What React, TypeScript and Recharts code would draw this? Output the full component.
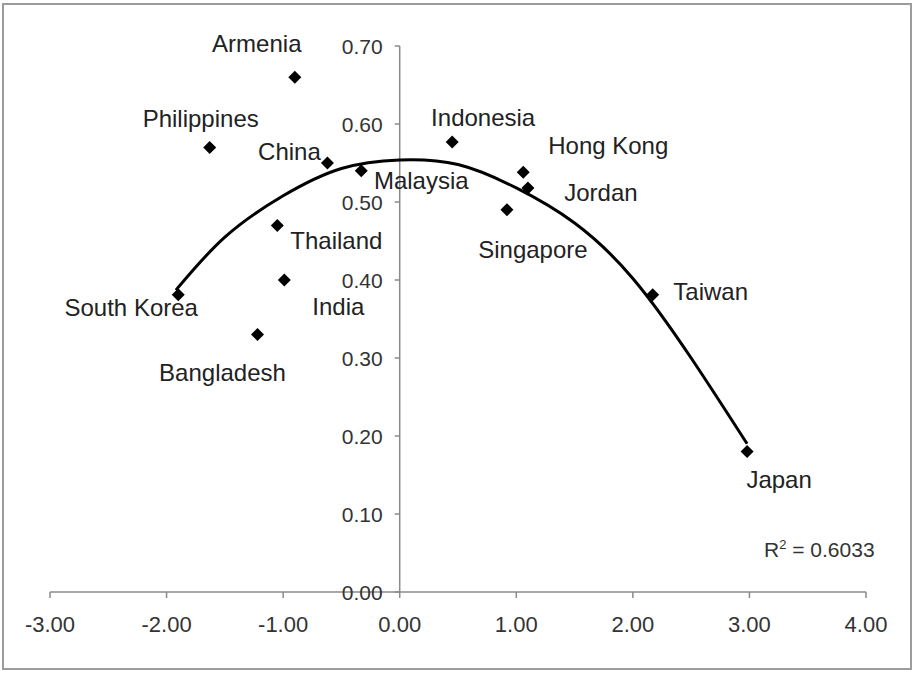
import { ComposedChart, Line, ReferenceLine, Scatter, XAxis, YAxis } from "recharts";

const countries = [
  "Armenia", "Philippines", "China", "Malaysia", "Indonesia", "Hong Kong", "Jordan",
  "Singapore", "Thailand", "India", "South Korea", "Bangladesh", "Taiwan", "Japan",
];
const xValues = [-0.9, -1.63, -0.62, -0.33, 0.45, 1.06, 1.1, 0.92, -1.05, -0.99, -1.9, -1.22, 2.17, 2.98];
const yValues = [0.66, 0.57, 0.55, 0.54, 0.577, 0.538, 0.518, 0.49, 0.47, 0.4, 0.381, 0.33, 0.381, 0.18];

// polynomial trend line
const trendX = [-1.92, -1.5, -1.0, -0.5, 0, 0.5, 1.0, 1.5, 2.0, 2.5, 2.98];
const trendY = [0.387, 0.455, 0.508, 0.543, 0.554, 0.548, 0.518, 0.473, 0.402, 0.3, 0.19];

const xTicks = [-3, -2, -1, 0, 1, 2, 3, 4];
const yTicks = [0, 0.1, 0.2, 0.3, 0.4, 0.5, 0.6, 0.7];
const rSquared = "0.6033";

// where each country label sits relative to its marker (px)
const labelOffsets: Record<string, [number, number]> = {
  Armenia: [-38, -34],
  Philippines: [-9, -29],
  China: [-38, -12],
  Malaysia: [60, 10],
  Indonesia: [31, -24],
  "Hong Kong": [85, -27],
  Jordan: [73, 5],
  Singapore: [26, 40],
  Thailand: [59, 15],
  India: [54, 26],
  "South Korea": [-47, 13],
  Bangladesh: [-35, 38],
  Taiwan: [58, -3],
  Japan: [32, 28],
};

const points = countries.map((name, i) => ({ name, x: xValues[i], y: yValues[i] }));
const trend = trendX.map((x, i) => ({ x, y: trendY[i] }));
const yTickPoints = yTicks.map((v) => ({ x: 0, y: v }));

const FONT = "'Liberation Sans', Arial, sans-serif";
const AXIS = "#8a8a8a";

function Diamond(props: any) {
  const { cx, cy, payload } = props;
  if (cx == null || cy == null) return <g />;
  const [dx, dy] = labelOffsets[payload.name] ?? [0, -20];
  const r = 6.5;
  return (
    <g>
      <path d={`M${cx},${cy - r}L${cx + r},${cy}L${cx},${cy + r}L${cx - r},${cy}Z`} fill="#000" />
      <text
        x={cx + dx}
        y={cy + dy}
        textAnchor="middle"
        dominantBaseline="central"
        fontSize={24}
        fontFamily={FONT}
        fill="#222"
      >
        {payload.name}
      </text>
    </g>
  );
}

function YTick(props: any) {
  const { cx, cy, payload } = props;
  if (cx == null || cy == null) return <g />;
  return (
    <g>
      <line x1={cx - 5} y1={cy} x2={cx} y2={cy} stroke={AXIS} strokeWidth={1.5} />
      <text
        x={cx - 17}
        y={cy}
        textAnchor="end"
        dominantBaseline="central"
        fontSize={21}
        fontFamily={FONT}
        fill="#333"
      >
        {payload.y.toFixed(2)}
      </text>
    </g>
  );
}

export default function App() {
  return (
    <div style={{ position: "absolute", left: 0, top: 0, width: 914, height: 673, background: "#fff" }}>
      <div
        style={{
          position: "absolute",
          left: 2,
          top: 3,
          width: 910,
          height: 667,
          boxSizing: "border-box",
          border: "2px solid #9c9c9c",
        }}
      />
      <ComposedChart
        width={914}
        height={673}
        margin={{ top: 46, right: 48, left: 50, bottom: 41 }}
        style={{ position: "absolute", left: 0, top: 0 }}
      >
        <XAxis
          type="number"
          dataKey="x"
          domain={[-3, 4]}
          ticks={xTicks}
          tickFormatter={(v: number) => v.toFixed(2)}
          height={40}
          stroke={AXIS}
          strokeWidth={1.5}
          tickSize={6}
          tickMargin={18}
          tick={{ fontSize: 22, fontFamily: FONT, fill: "#333" }}
        />
        <YAxis type="number" dataKey="y" domain={[0, 0.7]} hide />
        <ReferenceLine x={0} stroke={AXIS} strokeWidth={1.5} />
        <Scatter data={yTickPoints} shape={<YTick />} isAnimationActive={false} />
        <Line
          data={trend}
          dataKey="y"
          type="natural"
          stroke="#000"
          strokeWidth={3}
          dot={false}
          activeDot={false}
          isAnimationActive={false}
        />
        <Scatter data={points} shape={<Diamond />} isAnimationActive={false} />
      </ComposedChart>
      <div
        style={{
          position: "absolute",
          left: 764,
          top: 537,
          fontFamily: FONT,
          fontSize: 21,
          lineHeight: "26px",
          color: "#333",
          whiteSpace: "nowrap",
        }}
      >
        R<span style={{ fontSize: 13, position: "relative", top: -8 }}>2</span> = {rSquared}
      </div>
    </div>
  );
}
